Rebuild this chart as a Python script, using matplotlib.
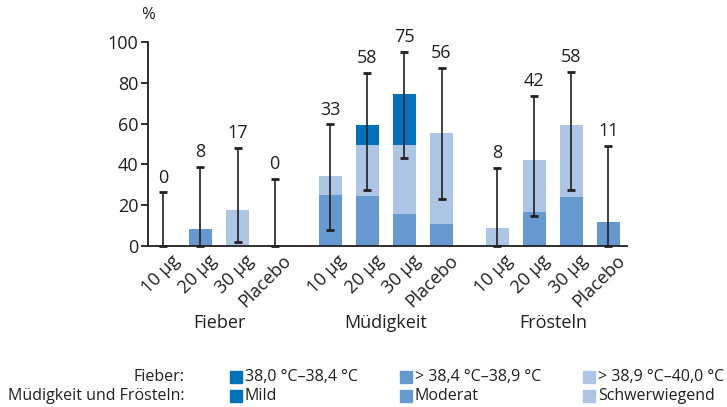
import numpy as np
import matplotlib
matplotlib.use('Agg')
import matplotlib.pyplot as plt
import matplotlib.transforms as mtrans
from matplotlib.patches import Rectangle

plt.rcParams['font.family'] = ['Open Sans', 'DejaVu Sans']

# data
groups = ['Fieber', 'Müdigkeit', 'Frösteln']
doses = ['10 µg', '20 µg', '30 µg', 'Placebo']
moderat = [0, 8.3, 0, 0, 25, 24.5, 16, 11, 0, 17, 24, 12]
schwer = [0, 0, 17.7, 0, 9.4, 25, 33.5, 44.3, 8.9, 25.2, 35.2, 0]
mild = [0, 0, 0, 0, 0, 9.6, 24.9, 0, 0, 0, 0, 0]
totals = [0, 8, 17, 0, 33, 58, 75, 56, 8, 42, 58, 11]
ci_lo = [0, 0, 2.3, 0, 8, 27.5, 43.3, 23.1, 0, 15, 27.5, 0]
ci_hi = [26.5, 38.9, 48.2, 32.9, 59.7, 84.7, 95, 87.3, 38.4, 73.5, 85.3, 49.2]

c_dark = '#0071bb'
c_mid = '#6699cf'
c_light = '#aec6e6'
ink = '#231f20'

W, H = 727, 407
fig = plt.figure(figsize=(W / 100, H / 100), dpi=100)
ax = fig.add_axes([148 / W, (H - 246.3) / H, (627 - 148) / W, (246.3 - 41.7) / H])

x = np.concatenate([np.arange(4), np.arange(4) + 4.5, np.arange(4) + 9])
bw = 0.62
moderat = np.array(moderat)
schwer = np.array(schwer)
mild = np.array(mild)
ax.bar(x, moderat, bw, color=c_mid, zorder=2)
ax.bar(x, schwer, bw, bottom=moderat, color=c_light, zorder=2)
ax.bar(x, mild, bw, bottom=moderat + schwer, color=c_dark, zorder=2)

lo = np.array(ci_lo)
hi = np.array(ci_hi)
ax.errorbar(x, (lo + hi) / 2, yerr=(hi - lo) / 2, fmt='none', ecolor=ink,
            elinewidth=1.2, capsize=3.2, capthick=2, zorder=4, clip_on=False)

for xi, h, t in zip(x, hi, totals):
    ax.annotate(str(t), (xi, h), xytext=(0, 4), textcoords='offset points',
                ha='center', va='bottom', fontsize=13, color=ink)

ax.set_xlim(-0.415, 12.5)
ax.set_ylim(0, 100)
ax.set_yticks([0, 20, 40, 60, 80, 100])
ax.tick_params(axis='y', direction='out', length=5, width=1.3, colors=ink,
               labelsize=13, pad=2)
ax.set_xticks(x)
ax.set_xticklabels(doses * 3, rotation=45, ha='right', rotation_mode='anchor',
                   fontsize=13, color=ink)
ax.tick_params(axis='x', length=0, pad=4)
for lbl in ax.get_xticklabels():
    lbl.set_transform(lbl.get_transform() +
                      mtrans.ScaledTranslation(7 / 100, 0, fig.dpi_scale_trans))
for s in ['top', 'right']:
    ax.spines[s].set_visible(False)
for s in ['left', 'bottom']:
    ax.spines[s].set_color(ink)
    ax.spines[s].set_linewidth(1.3)

fig.text(148 / W, 1 - 15 / H, '%', ha='center', va='center', fontsize=12, color=ink)

blend = mtrans.blended_transform_factory(ax.transData, fig.transFigure)
for g, gx in zip(groups, [1.5, 6, 10.5]):
    ax.text(gx, 1 - 323 / H, g, transform=blend, ha='center', va='center',
            fontsize=13, color=ink)

# legend drawn by hand
rows = ['Fieber:', 'Müdigkeit und Frösteln:']
leg_fieber = ['38,0 °C–38,4 °C', '> 38,4 °C–38,9 °C', '> 38,9 °C–40,0 °C']
leg_other = ['Mild', 'Moderat', 'Schwerwiegend']
cols = [229.5, 399.5, 583]
row_y = [377, 396]
for r, ry in zip(rows, row_y):
    fig.text(184.5 / W, 1 - ry / H, r, ha='right', va='center', fontsize=11.5, color=ink)
for labels, ry in zip([leg_fieber, leg_other], row_y):
    for cx, lab, col in zip(cols, labels, [c_dark, c_mid, c_light]):
        fig.patches.append(Rectangle((cx / W, 1 - (ry + 6) / H), 12 / W, 12 / H,
                                     transform=fig.transFigure, color=col))
        fig.text((cx + 15.5) / W, 1 - ry / H, lab, ha='left', va='center',
                 fontsize=11.5, color=ink)

fig.savefig('out.png', dpi=100)
